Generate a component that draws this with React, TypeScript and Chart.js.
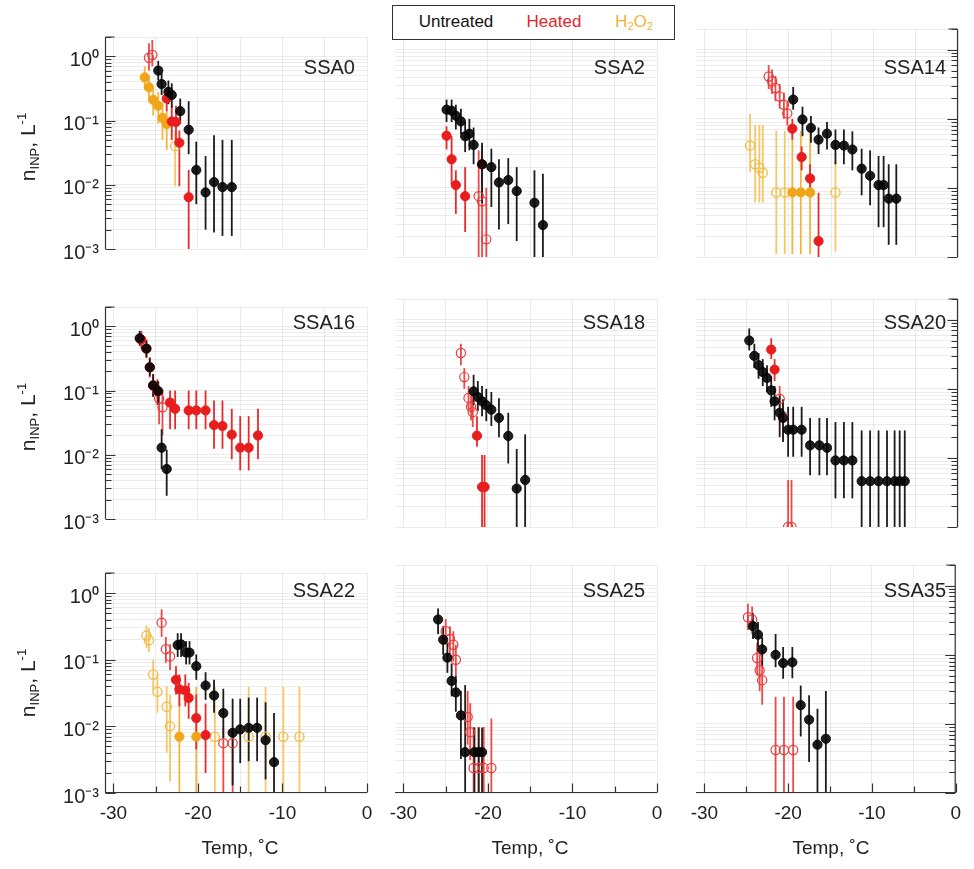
import React, { useEffect, useRef } from 'react';
import { Chart, registerables } from 'chart.js';
Chart.register(...registerables);

// ---------------- DATA (temperature °C, n_INP L^-1, error-bar low / high) ----------------
// SSA0
const SSA0_U_T = [-24.7, -24.3, -23.5, -23.1, -22.1, -21.1, -20.2, -19.1, -18.1, -17.1, -16.0];
const SSA0_U_V = [0.60, 0.37, 0.28, 0.25, 0.14, 0.072, 0.017, 0.0076, 0.011, 0.0092, 0.0092];
const SSA0_U_LO = [0.42, 0.25, 0.18, 0.16, 0.09, 0.03, 0.005, 0.002, 0.0018, 0.0016, 0.0016];
const SSA0_U_HI = [0.85, 0.55, 0.42, 0.38, 0.22, 0.2, 0.047, 0.028, 0.059, 0.05, 0.05];
const SSA0_H_T = [-23.7, -23.1, -22.6, -22.2, -21.1];
const SSA0_H_V = [0.22, 0.097, 0.095, 0.045, 0.0064];
const SSA0_H_LO = [0.14, 0.05, 0.05, 0.0095, 0.0009];
const SSA0_H_HI = [0.33, 0.17, 0.17, 0.07, 0.017];
const SSA0_HO_T = [-25.8, -25.4];
const SSA0_HO_V = [0.95, 1.05];
const SSA0_HO_LO = [0.6, 0.7];
const SSA0_HO_HI = [1.6, 1.8];
const SSA0_X_T = [-26.3, -25.8, -25.3, -24.7, -24.2, -23.7];
const SSA0_X_V = [0.47, 0.33, 0.21, 0.17, 0.11, 0.088];
const SSA0_X_LO = [0.3, 0.2, 0.12, 0.09, 0.05, 0.035];
const SSA0_X_HI = [0.7, 0.5, 0.33, 0.28, 0.19, 0.15];
const SSA0_XO_T = [-22.7];
const SSA0_XO_V = [0.04];
const SSA0_XO_LO = [0.0095];
const SSA0_XO_HI = [0.07];

// SSA2
const SSA2_U_T = [-24.9, -24.3, -23.8, -23.2, -22.7, -22.2, -21.7, -20.7, -19.6, -18.7, -17.6, -16.6, -14.5, -13.5];
const SSA2_U_V = [0.136, 0.131, 0.111, 0.092, 0.056, 0.061, 0.042, 0.022, 0.02, 0.012, 0.013, 0.009, 0.0061, 0.0029];
const SSA2_U_LO = [0.09, 0.09, 0.07, 0.06, 0.033, 0.035, 0.022, 0.006, 0.0053, 0.0025, 0.003, 0.0017, 0.0009, 0.0009];
const SSA2_U_HI = [0.19, 0.19, 0.16, 0.14, 0.09, 0.1, 0.075, 0.045, 0.037, 0.026, 0.027, 0.02, 0.018, 0.016];
const SSA2_H_T = [-24.9, -24.3, -23.8, -22.7, -20.7];
const SSA2_H_V = [0.057, 0.026, 0.011, 0.0076, 0.022];
const SSA2_H_LO = [0.036, 0.011, 0.0042, 0.0023, 0.008];
const SSA2_H_HI = [0.078, 0.056, 0.018, 0.02, 0.04];
const SSA2_HO_T = [-21.1, -20.7, -20.2];
const SSA2_HO_V = [0.0076, 0.0064, 0.0018];
const SSA2_HO_LO = [0.001, 0.001, 0.0009];
const SSA2_HO_HI = [0.035, 0.035, 0.01];

// SSA14
const SSA14_U_T = [-19.5, -18.4, -17.4, -16.5, -15.5, -14.5, -13.5, -12.5, -11.4, -10.4, -9.4, -8.8, -8.2, -7.3];
const SSA14_U_V = [0.19, 0.098, 0.074, 0.05, 0.061, 0.042, 0.041, 0.036, 0.019, 0.015, 0.011, 0.011, 0.007, 0.007];
const SSA14_U_LO = [0.136, 0.056, 0.045, 0.031, 0.036, 0.022, 0.022, 0.018, 0.0078, 0.0056, 0.0027, 0.0027, 0.0015, 0.0015];
const SSA14_U_HI = [0.29, 0.15, 0.11, 0.075, 0.09, 0.07, 0.07, 0.066, 0.037, 0.035, 0.029, 0.029, 0.022, 0.022];
const SSA14_H_T = [-19.6, -18.5, -17.5, -16.5];
const SSA14_H_V = [0.072, 0.028, 0.0137, 0.0017];
const SSA14_H_LO = [0.05, 0.018, 0.0084, 0.0009];
const SSA14_H_HI = [0.1, 0.04, 0.022, 0.0085];
const SSA14_HO_T = [-22.4, -22.0, -21.6, -21.1, -20.6, -20.2];
const SSA14_HO_V = [0.41, 0.35, 0.28, 0.21, 0.16, 0.12];
const SSA14_HO_LO = [0.27, 0.23, 0.18, 0.14, 0.1, 0.08];
const SSA14_HO_HI = [0.6, 0.52, 0.42, 0.32, 0.24, 0.18];
const SSA14_X_T = [-19.6, -18.6, -17.5];
const SSA14_X_V = [0.0086, 0.0086, 0.0086];
const SSA14_X_LO = [0.0011, 0.0011, 0.0011];
const SSA14_X_HI = [0.067, 0.067, 0.067];
const SSA14_XO_T = [-24.6, -24.0, -23.5, -23.1, -21.5, -20.5, -14.5];
const SSA14_XO_V = [0.041, 0.022, 0.0196, 0.0166, 0.0086, 0.0086, 0.0086];
const SSA14_XO_LO = [0.017, 0.0062, 0.0062, 0.0062, 0.0011, 0.0011, 0.0012];
const SSA14_XO_HI = [0.12, 0.082, 0.082, 0.082, 0.067, 0.067, 0.025];

// SSA16
const SSA16_U_T = [-26.9, -26.1, -25.7, -25.3, -24.7, -24.3, -23.7];
const SSA16_U_V = [0.65, 0.45, 0.23, 0.12, 0.098, 0.0129, 0.006];
const SSA16_U_LO = [0.5, 0.33, 0.17, 0.08, 0.06, 0.006, 0.0023];
const SSA16_U_HI = [0.85, 0.6, 0.32, 0.18, 0.14, 0.025, 0.012];
const SSA16_H_T = [-26.7, -26.1, -25.7, -25.3, -24.8, -23.3, -22.7, -21.1, -20.2, -19.1, -18.1, -17.1, -16.0, -15.0, -14.0, -12.9];
const SSA16_H_V = [0.62, 0.45, 0.23, 0.12, 0.098, 0.065, 0.052, 0.049, 0.049, 0.049, 0.029, 0.028, 0.0206, 0.0129, 0.0129, 0.02];
const SSA16_H_LO = [0.45, 0.32, 0.16, 0.08, 0.06, 0.025, 0.025, 0.025, 0.025, 0.025, 0.0124, 0.0124, 0.0085, 0.0057, 0.0057, 0.0085];
const SSA16_H_HI = [0.85, 0.62, 0.33, 0.18, 0.15, 0.1, 0.1, 0.1, 0.1, 0.1, 0.07, 0.07, 0.052, 0.04, 0.04, 0.052];
const SSA16_HO_T = [-24.6, -24.2];
const SSA16_HO_V = [0.075, 0.055];
const SSA16_HO_LO = [0.03, 0.02];
const SSA16_HO_HI = [0.12, 0.1];

// SSA18
const SSA18_U_T = [-21.7, -21.2, -20.7, -20.2, -19.6, -18.7, -17.6, -16.6, -15.6];
const SSA18_U_V = [0.092, 0.076, 0.066, 0.058, 0.05, 0.038, 0.0208, 0.0036, 0.0048];
const SSA18_U_LO = [0.058, 0.048, 0.04, 0.034, 0.029, 0.02, 0.0083, 0.0009, 0.0009];
const SSA18_U_HI = [0.16, 0.13, 0.11, 0.1, 0.09, 0.073, 0.045, 0.0135, 0.022];
const SSA18_H_T = [-21.3, -20.7, -20.4];
const SSA18_H_V = [0.021, 0.0038, 0.0038];
const SSA18_H_LO = [0.0145, 0.0009, 0.0009];
const SSA18_H_HI = [0.04, 0.011, 0.011];
const SSA18_HO_T = [-23.2, -22.8, -22.3, -22.0, -21.8];
const SSA18_HO_V = [0.33, 0.148, 0.074, 0.055, 0.046];
const SSA18_HO_LO = [0.22, 0.1, 0.05, 0.035, 0.028];
const SSA18_HO_HI = [0.45, 0.2, 0.11, 0.08, 0.07];

// SSA20
const SSA20_U_T = [-24.7, -24.1, -23.6, -23.1, -22.6, -22.1, -21.7, -21.1, -20.7, -20.1, -19.5, -18.5, -17.5, -16.4, -15.5, -14.5, -13.5, -12.5, -11.4, -10.4, -9.4, -8.4, -7.5, -6.9, -6.3];
const SSA20_U_V = [0.5, 0.3, 0.22, 0.175, 0.144, 0.095, 0.066, 0.045, 0.038, 0.0256, 0.0256, 0.0256, 0.0152, 0.0152, 0.014, 0.0092, 0.0092, 0.0092, 0.0046, 0.0046, 0.0046, 0.0046, 0.0046, 0.0046, 0.0046];
const SSA20_U_LO = [0.36, 0.2, 0.14, 0.11, 0.09, 0.055, 0.035, 0.02, 0.017, 0.0104, 0.0104, 0.0104, 0.0056, 0.0056, 0.0056, 0.0026, 0.0026, 0.0026, 0.0009, 0.0009, 0.0009, 0.0009, 0.0009, 0.0009, 0.0009];
const SSA20_U_HI = [0.75, 0.45, 0.33, 0.27, 0.22, 0.15, 0.11, 0.08, 0.07, 0.055, 0.055, 0.055, 0.038, 0.038, 0.038, 0.033, 0.033, 0.033, 0.025, 0.025, 0.025, 0.025, 0.025, 0.025, 0.025];
const SSA20_H_T = [-22.1, -21.7];
const SSA20_H_V = [0.37, 0.19];
const SSA20_H_LO = [0.27, 0.13];
const SSA20_H_HI = [0.54, 0.27];
const SSA20_HO_T = [-21.1, -20.7, -20.1, -19.7];
const SSA20_HO_V = [0.072, 0.04, 0.001, 0.001];
const SSA20_HO_LO = [0.035, 0.02, 0.0009, 0.0009];
const SSA20_HO_HI = [0.11, 0.07, 0.0048, 0.0048];

// SSA22
const SSA22_U_T = [-22.4, -22.0, -21.4, -21.0, -20.2, -19.1, -18.1, -17.0, -15.9, -15.0, -14.0, -13.0, -12.0, -11.0];
const SSA22_U_V = [0.166, 0.17, 0.128, 0.128, 0.08, 0.041, 0.029, 0.0158, 0.008, 0.009, 0.0095, 0.0095, 0.0062, 0.0029];
const SSA22_U_LO = [0.11, 0.11, 0.085, 0.085, 0.05, 0.025, 0.016, 0.0067, 0.0013, 0.0028, 0.003, 0.003, 0.0016, 0.0009];
const SSA22_U_HI = [0.25, 0.25, 0.19, 0.19, 0.12, 0.065, 0.05, 0.0366, 0.026, 0.026, 0.027, 0.027, 0.023, 0.0158];
const SSA22_H_T = [-22.6, -22.2, -21.5, -21.1, -20.2, -19.1];
const SSA22_H_V = [0.05, 0.036, 0.0345, 0.0267, 0.0133, 0.0074];
const SSA22_H_LO = [0.03, 0.02, 0.02, 0.013, 0.0045, 0.002];
const SSA22_H_HI = [0.08, 0.06, 0.06, 0.045, 0.03, 0.022];
const SSA22_HO_T = [-24.3, -23.8, -23.3, -17.0, -15.9];
const SSA22_HO_V = [0.36, 0.144, 0.112, 0.0056, 0.0056];
const SSA22_HO_LO = [0.22, 0.09, 0.07, 0.0009, 0.0009];
const SSA22_HO_HI = [0.57, 0.22, 0.17, 0.0095, 0.0095];
const SSA22_X_T = [-22.2, -20.2];
const SSA22_X_V = [0.007, 0.007];
const SSA22_X_LO = [0.0009, 0.0009];
const SSA22_X_HI = [0.039, 0.039];
const SSA22_XO_T = [-26.1, -25.8, -25.3, -24.8, -23.7, -23.3, -18.0, -14.0, -12.0, -9.9, -8.0];
const SSA22_XO_V = [0.23, 0.196, 0.06, 0.033, 0.0197, 0.01, 0.007, 0.007, 0.007, 0.007, 0.007];
const SSA22_XO_LO = [0.15, 0.13, 0.035, 0.016, 0.004, 0.0015, 0.0009, 0.0009, 0.0009, 0.0009, 0.0009];
const SSA22_XO_HI = [0.33, 0.3, 0.1, 0.06, 0.04, 0.03, 0.039, 0.039, 0.039, 0.039, 0.039];

// SSA25
const SSA25_U_T = [-25.9, -25.3, -24.8, -24.3, -23.8, -23.2, -22.7, -21.6, -21.1, -20.7];
const SSA25_U_V = [0.325, 0.166, 0.091, 0.042, 0.0286, 0.0133, 0.0039, 0.0039, 0.0039, 0.0039];
const SSA25_U_LO = [0.2, 0.1, 0.055, 0.025, 0.015, 0.0031, 0.0009, 0.0009, 0.0009, 0.0009];
const SSA25_U_HI = [0.47, 0.26, 0.15, 0.075, 0.05, 0.03, 0.0365, 0.0089, 0.0089, 0.0089];
const SSA25_HO_T = [-25.0, -24.5, -24.1, -23.8, -22.4, -22.1, -21.7, -21.1, -20.5, -19.6];
const SSA25_HO_V = [0.22, 0.17, 0.14, 0.085, 0.0126, 0.0076, 0.0023, 0.0023, 0.0023, 0.0023];
const SSA25_HO_LO = [0.14, 0.1, 0.08, 0.05, 0.005, 0.003, 0.0009, 0.0009, 0.0009, 0.0009];
const SSA25_HO_HI = [0.33, 0.26, 0.22, 0.14, 0.03, 0.02, 0.009, 0.009, 0.009, 0.012];

// SSA35
const SSA35_U_T = [-24.2, -23.6, -23.1, -21.5, -20.6, -19.5, -18.5, -17.5, -16.5, -15.5];
const SSA35_U_V = [0.26, 0.196, 0.12, 0.1, 0.076, 0.078, 0.0187, 0.0115, 0.005, 0.0061];
const SSA35_U_LO = [0.17, 0.13, 0.07, 0.066, 0.045, 0.046, 0.0066, 0.0028, 0.0009, 0.0009];
const SSA35_U_HI = [0.4, 0.3, 0.18, 0.2, 0.13, 0.13, 0.036, 0.026, 0.0166, 0.03];
const SSA35_HO_T = [-24.8, -24.3, -23.7, -23.4, -23.1, -21.5, -20.5, -19.4];
const SSA35_HO_V = [0.35, 0.325, 0.09, 0.06, 0.043, 0.0042, 0.0042, 0.0042];
const SSA35_HO_LO = [0.23, 0.2, 0.05, 0.03, 0.019, 0.0009, 0.0009, 0.0009];
const SSA35_HO_HI = [0.55, 0.5, 0.15, 0.1, 0.1, 0.0247, 0.0247, 0.0247];

// axis settings
const X_MIN = -31;
const X_MAX = 0;
const Y_MIN = 0.001;
const Y_MAX = 2;
const X_TICK_STEP = 5;

// ---------------- layout ----------------
const FONT = '"Liberation Sans", Arial, Helvetica, sans-serif';
const COL_LEFT = [105, 395, 696];
const ROW_TOP = [29, 299, 565];
const AREA_W = 262;
const AREA_H = 228;
const LABEL_Y = [67, 322, 590];
const GRID = 'rgba(0,0,0,0.075)';
const AXIS = '#333';

type Kind = 'unt' | 'heat' | 'heatOpen' | 'h2o2' | 'h2o2Open';
interface SeriesSpec { kind: Kind; t: number[]; v: number[]; lo: number[]; hi: number[] }
interface PanelSpec { name: string; row: number; col: number; series: SeriesSpec[] }

const S = (kind: Kind, t: number[], v: number[], lo: number[], hi: number[]): SeriesSpec => ({ kind, t, v, lo, hi });

const PANELS: PanelSpec[] = [
  { name: 'SSA0', row: 0, col: 0, series: [
    S('unt', SSA0_U_T, SSA0_U_V, SSA0_U_LO, SSA0_U_HI),
    S('heat', SSA0_H_T, SSA0_H_V, SSA0_H_LO, SSA0_H_HI),
    S('heatOpen', SSA0_HO_T, SSA0_HO_V, SSA0_HO_LO, SSA0_HO_HI),
    S('h2o2', SSA0_X_T, SSA0_X_V, SSA0_X_LO, SSA0_X_HI),
    S('h2o2Open', SSA0_XO_T, SSA0_XO_V, SSA0_XO_LO, SSA0_XO_HI),
  ] },
  { name: 'SSA2', row: 0, col: 1, series: [
    S('unt', SSA2_U_T, SSA2_U_V, SSA2_U_LO, SSA2_U_HI),
    S('heat', SSA2_H_T, SSA2_H_V, SSA2_H_LO, SSA2_H_HI),
    S('heatOpen', SSA2_HO_T, SSA2_HO_V, SSA2_HO_LO, SSA2_HO_HI),
  ] },
  { name: 'SSA14', row: 0, col: 2, series: [
    S('unt', SSA14_U_T, SSA14_U_V, SSA14_U_LO, SSA14_U_HI),
    S('heat', SSA14_H_T, SSA14_H_V, SSA14_H_LO, SSA14_H_HI),
    S('heatOpen', SSA14_HO_T, SSA14_HO_V, SSA14_HO_LO, SSA14_HO_HI),
    S('h2o2', SSA14_X_T, SSA14_X_V, SSA14_X_LO, SSA14_X_HI),
    S('h2o2Open', SSA14_XO_T, SSA14_XO_V, SSA14_XO_LO, SSA14_XO_HI),
  ] },
  { name: 'SSA16', row: 1, col: 0, series: [
    S('unt', SSA16_U_T, SSA16_U_V, SSA16_U_LO, SSA16_U_HI),
    S('heat', SSA16_H_T, SSA16_H_V, SSA16_H_LO, SSA16_H_HI),
    S('heatOpen', SSA16_HO_T, SSA16_HO_V, SSA16_HO_LO, SSA16_HO_HI),
  ] },
  { name: 'SSA18', row: 1, col: 1, series: [
    S('unt', SSA18_U_T, SSA18_U_V, SSA18_U_LO, SSA18_U_HI),
    S('heat', SSA18_H_T, SSA18_H_V, SSA18_H_LO, SSA18_H_HI),
    S('heatOpen', SSA18_HO_T, SSA18_HO_V, SSA18_HO_LO, SSA18_HO_HI),
  ] },
  { name: 'SSA20', row: 1, col: 2, series: [
    S('unt', SSA20_U_T, SSA20_U_V, SSA20_U_LO, SSA20_U_HI),
    S('heat', SSA20_H_T, SSA20_H_V, SSA20_H_LO, SSA20_H_HI),
    S('heatOpen', SSA20_HO_T, SSA20_HO_V, SSA20_HO_LO, SSA20_HO_HI),
  ] },
  { name: 'SSA22', row: 2, col: 0, series: [
    S('unt', SSA22_U_T, SSA22_U_V, SSA22_U_LO, SSA22_U_HI),
    S('heat', SSA22_H_T, SSA22_H_V, SSA22_H_LO, SSA22_H_HI),
    S('heatOpen', SSA22_HO_T, SSA22_HO_V, SSA22_HO_LO, SSA22_HO_HI),
    S('h2o2', SSA22_X_T, SSA22_X_V, SSA22_X_LO, SSA22_X_HI),
    S('h2o2Open', SSA22_XO_T, SSA22_XO_V, SSA22_XO_LO, SSA22_XO_HI),
  ] },
  { name: 'SSA25', row: 2, col: 1, series: [
    S('unt', SSA25_U_T, SSA25_U_V, SSA25_U_LO, SSA25_U_HI),
    S('heatOpen', SSA25_HO_T, SSA25_HO_V, SSA25_HO_LO, SSA25_HO_HI),
  ] },
  { name: 'SSA35', row: 2, col: 2, series: [
    S('unt', SSA35_U_T, SSA35_U_V, SSA35_U_LO, SSA35_U_HI),
    S('heatOpen', SSA35_HO_T, SSA35_HO_V, SSA35_HO_LO, SSA35_HO_HI),
  ] },
];

// z: 0 is drawn on top
const STYLE: Record<Kind, { fill: string; stroke: string; bar: string; bw: number; z: number }> = {
  unt: { fill: 'rgba(6,6,6,0.9)', stroke: 'rgba(6,6,6,0.9)', bar: '#1c1c1c', bw: 1, z: 0 },
  heat: { fill: '#e81d1d', stroke: '#e81d1d', bar: '#e92a2a', bw: 1, z: 1 },
  heatOpen: { fill: 'rgba(255,255,255,0)', stroke: '#ec3a3a', bar: '#ef4848', bw: 1.2, z: 2 },
  h2o2: { fill: '#f1a61a', stroke: '#f1a61a', bar: '#f3b440', bw: 1, z: 3 },
  h2o2Open: { fill: 'rgba(255,255,255,0)', stroke: '#f2bb45', bar: '#f5c865', bw: 1.3, z: 4 },
};

const SUP: Record<string, string> = { '-': '\u207B', '0': '\u2070', '1': '\u00B9', '2': '\u00B2', '3': '\u00B3' };
function powLabel(v: number): string {
  const e = Math.log10(v);
  const r = Math.round(e);
  if (Math.abs(e - r) > 1e-6) return '';
  return '10' + String(r).split('').map((c) => SUP[c]).join('');
}

const errorBarPlugin = {
  id: 'errorBars',
  beforeDatasetsDraw(chart: any) {
    const { ctx, chartArea: a, scales } = chart;
    const xs = scales.x;
    const ys = scales.y;
    ctx.save();
    ctx.beginPath();
    ctx.rect(a.left, a.top, a.right - a.left, a.bottom - a.top);
    ctx.clip();
    const sets = chart.data.datasets.slice().reverse();
    for (const ds of sets) {
      ctx.strokeStyle = ds.errColor;
      ctx.lineWidth = 1.8;
      ds.data.forEach((p: any, i: number) => {
        const px = xs.getPixelForValue(p.x);
        ctx.beginPath();
        ctx.moveTo(px, ys.getPixelForValue(ds.errLo[i]));
        ctx.lineTo(px, ys.getPixelForValue(ds.errHi[i]));
        ctx.stroke();
      });
    }
    ctx.restore();
  },
};

const axesPlugin = {
  id: 'panelAxes',
  afterDraw(chart: any, _args: any, opts: any) {
    const { ctx, chartArea: a, scales } = chart;
    const ys = scales.y;
    const xs = scales.x;
    ctx.save();
    ctx.strokeStyle = AXIS;
    ctx.lineWidth = 1.2;
    const yt: { v: number; major: boolean }[] = [];
    for (let e = -3; e <= 0; e++) {
      for (let k = 1; k <= 9; k++) {
        const v = k * Math.pow(10, e);
        if (v <= Y_MAX + 1e-9) yt.push({ v, major: k === 1 });
      }
    }
    const vert = (x: number, dir: number) => {
      ctx.beginPath();
      ctx.moveTo(x, a.top);
      ctx.lineTo(x, a.bottom);
      ctx.stroke();
      ctx.beginPath();
      ctx.moveTo(x, a.top);
      ctx.lineTo(x + dir * 9, a.top);
      for (const t of yt) {
        const y = Math.round(ys.getPixelForValue(t.v)) + 0.5;
        ctx.moveTo(x, y);
        ctx.lineTo(x + dir * (t.major ? 10 : 6), y);
      }
      ctx.stroke();
    };
    if (opts.left) vert(a.left + 0.5, 1);
    if (opts.right) vert(a.right - 0.5, -1);
    if (opts.bottom) {
      const y = a.bottom - 0.5;
      ctx.beginPath();
      ctx.moveTo(a.left, y);
      ctx.lineTo(a.right, y);
      for (let t = -30; t <= 0; t += 5) {
        const x = Math.round(xs.getPixelForValue(t)) + 0.5;
        ctx.moveTo(x, y);
        ctx.lineTo(x, y - (t % 10 === 0 ? 9 : 6));
      }
      ctx.stroke();
    }
    ctx.restore();
  },
};

function Panel({ p }: { p: PanelSpec }) {
  const ref = useRef<HTMLCanvasElement | null>(null);
  const L = p.col === 0 ? 100 : 20;
  const R = p.col === 2 ? 12 : 20;
  const T = 10;
  const B = p.row === 2 ? 60 : 10;
  const W = AREA_W + L + R;
  const H = AREA_H + T + B;
  useEffect(() => {
    const canvas = ref.current;
    if (!canvas) return;
    const sorted = p.series.slice().sort((a, b) => STYLE[a.kind].z - STYLE[b.kind].z);
    const datasets = sorted.map((s) => {
      const st = STYLE[s.kind];
      return {
        label: s.kind,
        data: s.t.map((t, i) => ({ x: t, y: s.v[i] })),
        pointRadius: 4.6,
        pointHoverRadius: 4.6,
        pointBackgroundColor: st.fill,
        pointBorderColor: st.stroke,
        pointBorderWidth: st.bw,
        showLine: false,
        errLo: s.lo,
        errHi: s.hi,
        errColor: st.bar,
      } as any;
    });
    const chart = new Chart(canvas, {
      type: 'scatter',
      data: { datasets },
      options: {
        responsive: false,
        animation: false,
        events: [],
        layout: { padding: { left: 0, right: R, top: T, bottom: 0 } },
        plugins: {
          legend: { display: false },
          tooltip: { enabled: false },
          panelAxes: { left: p.col === 0, right: p.col === 2, bottom: p.row === 2 },
        } as any,
        scales: {
          x: {
            type: 'linear',
            min: X_MIN,
            max: X_MAX,
            afterFit: (s: any) => { s.height = B; },
            border: { display: false },
            grid: { color: GRID, drawTicks: false, lineWidth: 1 },
            ticks: {
              display: p.row === 2,
              stepSize: X_TICK_STEP,
              includeBounds: false,
              autoSkip: false,
              maxRotation: 0,
              minRotation: 0,
              padding: 9,
              color: '#222',
              font: { family: FONT, size: 19 },
              callback: (v: any) => {
                const n = Math.round(Number(v));
                return n % 10 === 0 ? String(n) : '';
              },
            },
          },
          y: {
            type: 'logarithmic',
            min: Y_MIN,
            max: Y_MAX,
            afterFit: (s: any) => { s.width = L; },
            afterBuildTicks: (s: any) => {
              s.ticks = s.ticks.filter((t: any) => {
                const m = t.value / Math.pow(10, Math.floor(Math.log10(t.value) + 1e-9));
                return Math.abs(m - Math.round(m)) < 1e-6;
              });
            },
            border: { display: false },
            grid: { color: GRID, drawTicks: false, lineWidth: 1 },
            ticks: {
              display: p.col === 0,
              autoSkip: false,
              padding: 6,
              labelOffset: 4,
              color: '#222',
              font: { family: FONT, size: 20 },
              callback: (v: any) => powLabel(Number(v)),
            },
          },
        } as any,
      },
      plugins: [errorBarPlugin, axesPlugin],
    });
    return () => chart.destroy();
  }, []);
  return (
    <canvas
      ref={ref}
      width={W}
      height={H}
      style={{ position: 'absolute', left: COL_LEFT[p.col] - L, top: ROW_TOP[p.row] - T, width: W, height: H }}
    />
  );
}

export default function App() {
  return (
    <div style={{ position: 'absolute', left: 0, top: 0, width: 974, height: 869, overflow: 'hidden', background: '#fff', fontFamily: FONT, color: '#222' }}>
      {PANELS.map((p) => <Panel key={p.name} p={p} />)}
      {PANELS.map((p) => (
        <div key={p.name + '-lab'} style={{ position: 'absolute', right: 974 - (COL_LEFT[p.col] + AREA_W - 12), top: LABEL_Y[p.row] - 12, fontSize: 20, lineHeight: '24px', whiteSpace: 'nowrap' }}>
          {p.name}
        </div>
      ))}
      {[0, 1, 2].map((r) => (
        <div key={'yt' + r} style={{ position: 'absolute', left: 28, top: ROW_TOP[r] + AREA_H / 2 + 4, transform: 'translate(-50%, -50%) rotate(-90deg)', whiteSpace: 'nowrap', fontSize: 21, lineHeight: '24px' }}>
          n<sub style={{ fontSize: 13, verticalAlign: '-4px' }}>INP</sub>, L<sup style={{ fontSize: 13, verticalAlign: '9px' }}>-1</sup>
        </div>
      ))}
      {[0, 1, 2].map((c) => (
        <div key={'xt' + c} style={{ position: 'absolute', left: COL_LEFT[c] + AREA_W / 2 + 4, top: 848, transform: 'translate(-50%, -50%)', whiteSpace: 'nowrap', fontSize: 19, lineHeight: '22px' }}>
          Temp, ˚C
        </div>
      ))}
      <div style={{ position: 'absolute', left: 392, top: 5, width: 283, height: 35, border: '1.5px solid #333', boxSizing: 'border-box', fontSize: 17, lineHeight: '32px', background: '#fff' }}>
        <span style={{ position: 'absolute', left: 63, top: 0, transform: 'translateX(-50%)', color: '#111', whiteSpace: 'nowrap' }}>Untreated</span>
        <span style={{ position: 'absolute', left: 161, top: 0, transform: 'translateX(-50%)', color: '#e8242a', whiteSpace: 'nowrap' }}>Heated</span>
        <span style={{ position: 'absolute', left: 241, top: 0, transform: 'translateX(-50%)', color: '#f2b234', whiteSpace: 'nowrap' }}>
          H<sub style={{ fontSize: 11, verticalAlign: '-3px' }}>2</sub>O<sub style={{ fontSize: 11, verticalAlign: '-3px' }}>2</sub>
        </span>
      </div>
    </div>
  );
}
